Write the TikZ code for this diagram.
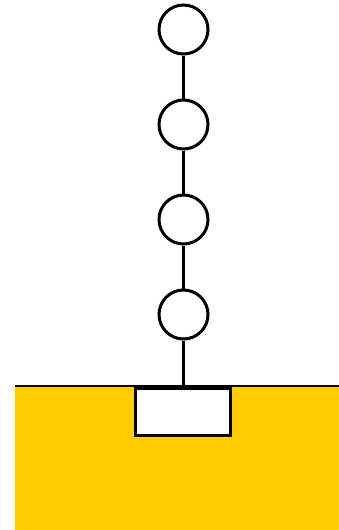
\documentclass[tikz,border=0pt]{standalone}
\definecolor{gold}{HTML}{FFCC00}
\tikzset{
  bead/.style={circle, draw=black, fill=white, line width=3pt, minimum size=49pt, inner sep=0pt},
  link/.style={draw=black, line width=3pt},
  socket/.style={draw=black, fill=white, line width=3pt, minimum width=94.5pt, minimum height=47pt, inner sep=0pt, anchor=north},
}
\begin{document}
\begin{tikzpicture}[x=1pt,y=-1pt]
\useasboundingbox (0,0) rectangle (339,530);
% ground
\fill[gold] (15,386) rectangle (339,530);
\draw[line width=1.5pt] (15,386) -- (339,386);
\node[socket] (s) at (183,386.5) {};
\node[bead] (c1) at (183.5,29.5) {};
\node[bead] (c2) at (183.5,124.5) {};
\node[bead] (c3) at (183.5,219.5) {};
\node[bead] (c4) at (183.5,314.5) {};
\draw[link] (c1) -- (c2);
\draw[link] (c2) -- (c3);
\draw[link] (c3) -- (c4);
\draw[link] (c4.south) -- (c4.south |- s.north);
\end{tikzpicture}
\end{document}
